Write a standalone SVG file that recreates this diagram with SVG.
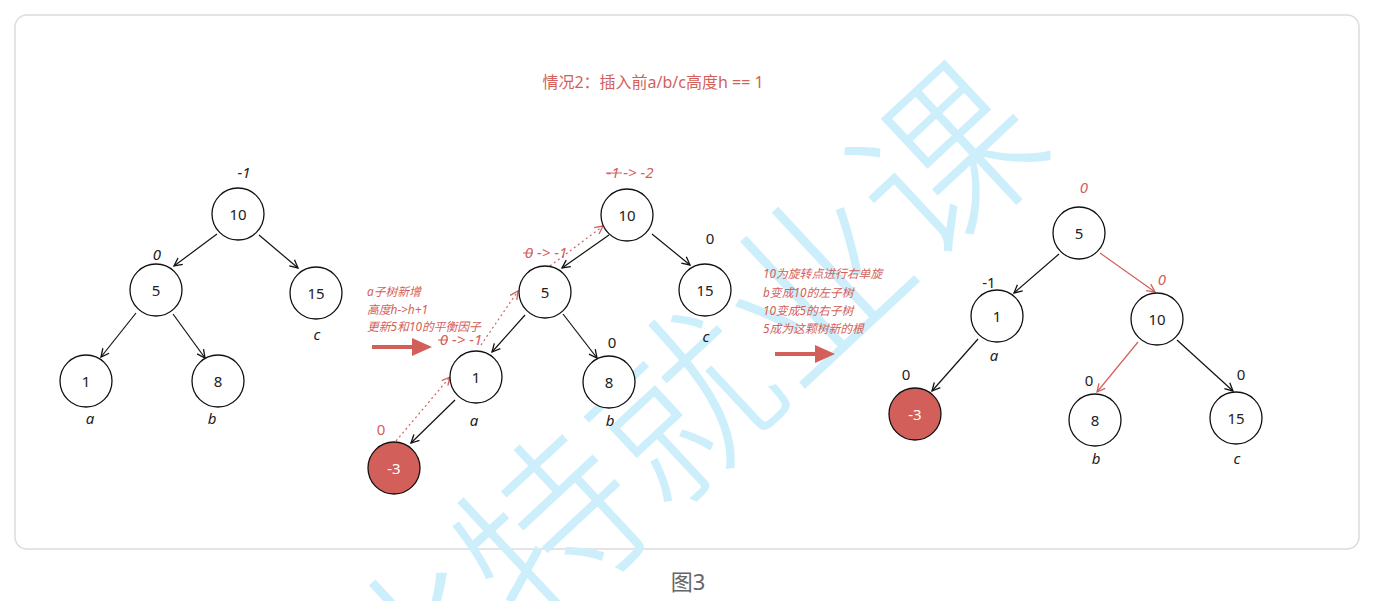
<svg xmlns="http://www.w3.org/2000/svg" width="1392" height="601" viewBox="0 0 1392 601">
<defs>
<style>
.node circle{fill:#fff;stroke:#111;stroke-width:1.3}
.node text,.lbl{font-family:"Noto Sans","Noto Sans CJK SC",sans-serif;font-size:15px;fill:#222;text-anchor:middle}
.red circle{fill:#d35f5a}
.red text{fill:#fff}
.it{font-style:italic}
.rt{fill:#d35f5a}
.edge{stroke:#111;stroke-width:1.2;fill:none;marker-end:url(#ah)}
.redge{stroke:#d35f5a;stroke-width:1.2;fill:none;marker-end:url(#ahr)}
.dot{stroke:#d35f5a;stroke-width:1.2;fill:none;stroke-dasharray:2 3;marker-end:url(#ahr)}
.note{font-family:"Noto Sans","Noto Sans CJK SC",sans-serif;font-size:11.8px;font-style:italic;fill:#d35f5a}
.big{stroke:#d35f5a;stroke-width:4}
</style>
<marker id="ah" viewBox="0 0 10 10" refX="9" refY="5" markerWidth="10" markerHeight="10" markerUnits="userSpaceOnUse" orient="auto"><path d="M1,1 L9,5 L1,9" fill="none" stroke="#111" stroke-width="1.3"/></marker>
<marker id="ahr" viewBox="0 0 10 10" refX="9" refY="5" markerWidth="10" markerHeight="10" markerUnits="userSpaceOnUse" orient="auto"><path d="M1,1 L9,5 L1,9" fill="none" stroke="#d35f5a" stroke-width="1.3"/></marker>
</defs>
<rect width="1392" height="601" fill="#fff"/>
<rect x="15" y="15" width="1344" height="534" rx="12" fill="#fff" stroke="#dcdcdc" stroke-width="1.5"/>

<g id="watermark" transform="translate(686,410) rotate(-43)">
<text x="0" y="62" text-anchor="middle" style="font-family:'Noto Sans CJK SC',sans-serif;font-size:180px;font-weight:300;fill:#cdeefb">比特就业课</text>
</g>

<text x="653" y="88" style="font-family:'Noto Sans','Noto Sans CJK SC',sans-serif;font-size:16px;fill:#d35f5a" text-anchor="middle">情况2：插入前a/b/c高度h == 1</text>
<text x="688" y="590" style="font-family:'Noto Sans','Noto Sans CJK SC',sans-serif;font-size:22px;fill:#666" text-anchor="middle">图3</text>

<g id="connectors">
<line class="edge" x1="217" y1="234" x2="174" y2="266"/>
<line class="edge" x1="259" y1="235" x2="298" y2="268"/>
<line class="edge" x1="136" y1="313" x2="101" y2="357"/>
<line class="edge" x1="173" y1="314" x2="205" y2="358"/>
<line class="edge" x1="609" y1="235" x2="562" y2="268"/>
<line class="edge" x1="652" y1="234" x2="690" y2="265"/>
<line class="edge" x1="525" y1="315" x2="492" y2="352"/>
<line class="edge" x1="563" y1="314" x2="597" y2="358"/>
<line class="edge" x1="455" y1="400" x2="411" y2="443"/>
<line class="dot" x1="396" y1="441" x2="450" y2="377"/>
<line class="dot" x1="481" y1="345" x2="518" y2="291"/>
<line class="dot" x1="550" y1="266" x2="603" y2="226"/>
<line class="edge" x1="1059" y1="254" x2="1014" y2="293"/>
<line class="redge" x1="1100" y1="253" x2="1155" y2="292"/>
<line class="edge" x1="978" y1="339" x2="932" y2="391"/>
<line class="redge" x1="1138" y1="342" x2="1097" y2="392"/>
<line class="edge" x1="1177" y1="340" x2="1233" y2="391"/>
<line class="big" x1="372" y1="347" x2="414" y2="347"/>
<path d="M412,338 L432,347 L412,356 Z" fill="#d35f5a"/>
<line class="big" x1="775" y1="354" x2="817" y2="354"/>
<path d="M815,345 L835,354 L815,363 Z" fill="#d35f5a"/>
</g>

<g id="L10" class="node"><circle cx="238" cy="214" r="26"/><text x="238" y="219.5">10</text></g>
<g id="L5" class="node"><circle cx="156" cy="290" r="26"/><text x="156" y="295.5">5</text></g>
<g id="L15" class="node"><circle cx="316" cy="293" r="26"/><text x="316" y="298.5">15</text></g>
<g id="L1" class="node"><circle cx="86" cy="381" r="26"/><text x="86" y="386.5">1</text></g>
<g id="L8" class="node"><circle cx="218" cy="381" r="26"/><text x="218" y="386.5">8</text></g>
<g id="Llabels">
<text class="lbl it" x="244" y="178">-1</text>
<text class="lbl it" x="157" y="260">0</text>
<text class="lbl it" x="90" y="424">a</text>
<text class="lbl it" x="212" y="424">b</text>
<text class="lbl it" x="317" y="340">c</text>
</g>

<g id="M10" class="node"><circle cx="627" cy="215" r="26"/><text x="627" y="220.5">10</text></g>
<g id="M5" class="node"><circle cx="545" cy="292" r="26"/><text x="545" y="297.5">5</text></g>
<g id="M15" class="node"><circle cx="705" cy="290" r="26"/><text x="705" y="295.5">15</text></g>
<g id="M1" class="node"><circle cx="476" cy="377" r="26"/><text x="476" y="382.5">1</text></g>
<g id="M8" class="node"><circle cx="609" cy="382" r="26"/><text x="609" y="387.5">8</text></g>
<g id="Mn3" class="node red"><circle cx="394" cy="468" r="26"/><text x="394" y="473.5">-3</text></g>
<g id="Mlabels">
<text class="lbl it rt" x="630" y="178">-1 -&gt; -2</text>
<line x1="606" y1="173" x2="622" y2="173" stroke="#d35f5a" stroke-width="1"/>
<text class="lbl" x="710" y="244">0</text>
<text class="lbl it rt" x="546" y="258">0 -&gt; -1</text>
<line x1="523" y1="253" x2="533" y2="253" stroke="#d35f5a" stroke-width="1"/>
<text class="lbl" x="612" y="348">0</text>
<text class="lbl it rt" x="461" y="345">0 -&gt; -1</text>
<line x1="438" y1="340" x2="448" y2="340" stroke="#d35f5a" stroke-width="1"/>
<text class="lbl rt" x="381" y="435">0</text>
<text class="lbl it" x="474" y="426">a</text>
<text class="lbl it" x="610" y="426">b</text>
<text class="lbl it" x="706" y="342">c</text>
<text class="note" x="367" y="296">a子树新增</text>
<text class="note" x="367" y="314">高度h-&gt;h+1</text>
<text class="note" x="367" y="331">更新5和10的平衡因子</text>
<text class="note" x="763" y="278">10为旋转点进行右单旋</text>
<text class="note" x="763" y="297">b变成10的左子树</text>
<text class="note" x="763" y="315">10变成5的右子树</text>
<text class="note" x="763" y="333">5成为这颗树新的根</text>
</g>

<g id="R5" class="node"><circle cx="1079" cy="233" r="26"/><text x="1079" y="238.5">5</text></g>
<g id="R1" class="node"><circle cx="997" cy="316" r="26"/><text x="997" y="321.5">1</text></g>
<g id="R10" class="node"><circle cx="1157" cy="319" r="26"/><text x="1157" y="324.5">10</text></g>
<g id="Rn3" class="node red"><circle cx="915" cy="414" r="26"/><text x="915" y="419.5">-3</text></g>
<g id="R8" class="node"><circle cx="1095" cy="420" r="26"/><text x="1095" y="425.5">8</text></g>
<g id="R15" class="node"><circle cx="1236" cy="418" r="26"/><text x="1236" y="423.5">15</text></g>
<g id="Rlabels">
<text class="lbl it rt" x="1084" y="193">0</text>
<text class="lbl" x="989" y="288">-1</text>
<text class="lbl it rt" x="1162" y="285">0</text>
<text class="lbl it" x="994" y="361">a</text>
<text class="lbl" x="906" y="380">0</text>
<text class="lbl" x="1089" y="386">0</text>
<text class="lbl" x="1241" y="380">0</text>
<text class="lbl it" x="1096" y="464">b</text>
<text class="lbl it" x="1237" y="464">c</text>
</g>
</svg>
